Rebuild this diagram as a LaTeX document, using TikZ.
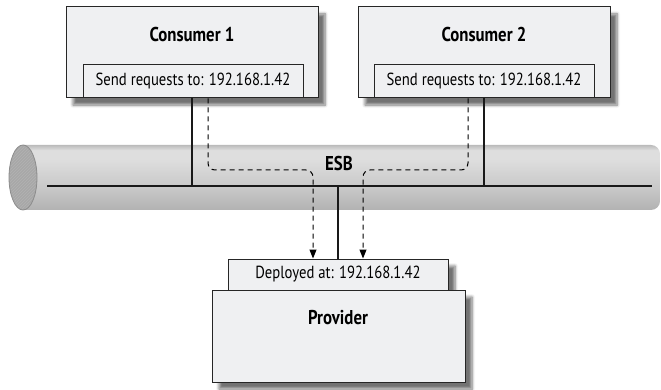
\documentclass[tikz,border=0pt]{standalone}
\usepackage{fontspec}
\setmainfont[FakeStretch=0.84]{PT Sans}
\usetikzlibrary{shadows.blur,arrows.meta,patterns}
\definecolor{boxfill}{HTML}{EFF0F2}
\definecolor{cylbot}{HTML}{B2B2B2}
\definecolor{cylmid}{HTML}{C8C8C8}
\definecolor{cylhi}{HTML}{DEDEDE}
\definecolor{cyltop}{HTML}{BBBBBB}
\definecolor{endfill}{HTML}{A8A8A8}
\definecolor{endline}{HTML}{8C8C8C}
\pgfdeclareverticalshading{cylshade}{100bp}{color(0bp)=(cylbot); color(25bp)=(cylbot); color(42bp)=(cylmid); color(64bp)=(cylhi); color(71bp)=(cylhi); color(75bp)=(cyltop); color(100bp)=(cyltop)}
\tikzset{
  shbox/.style={draw=black!85, line width=1pt, fill=boxfill, inner sep=0pt,
    blur shadow={shadow xshift=7pt, shadow yshift=-7pt, shadow blur steps=6, shadow blur radius=3pt, shadow opacity=55}},
  plainbox/.style={draw=black!85, line width=1pt, fill=boxfill, inner sep=0pt},
  title/.style={font=\bfseries\fontsize{20}{22}\selectfont, inner sep=0pt},
  addr/.style={font=\fontsize{17.5}{20}\selectfont, inner sep=0pt},
  solidlink/.style={line width=1.6pt, draw=black!90},
  dashlink/.style={line width=1pt, draw=black, dash pattern=on 5pt off 4pt, rounded corners=7pt},
  tip/.style={-{Triangle[length=9pt,width=7pt]}}
}
\begin{document}
\begin{tikzpicture}[x=1pt,y=-1pt]
\useasboundingbox (0,0) rectangle (661,390);
% ESB cylinder (drawn with upward y so the shading is not flipped)
\begin{scope}[y=1pt]
\shade[shading=cylshade] (23,-145) -- (651,-145) arc[start angle=90,end angle=0,radius=9] -- (660,-201) arc[start angle=0,end angle=-90,radius=9] -- (23,-210) -- cycle;
\filldraw[fill=endfill, draw=endline, line width=0.8pt] (23,-177.5) ellipse[x radius=14, y radius=32.5];
\fill[pattern=north east lines, pattern color=black!30] (23,-177.5) ellipse[x radius=13, y radius=31.5];
\end{scope}
\node[title] (esb) at (339,164) {ESB};
\coordinate (busL) at (47,186);
\coordinate (busR) at (652,186);
\draw[line width=1.8pt, draw=black!90] (busL) -- (busR);

% boxes
\node[shbox, minimum width=252pt, minimum height=91pt] (c1) at (192,52.5) {};
\node[plainbox, minimum width=220pt, minimum height=33pt] (c1in) at (193,81.5) {};
\node[title] (c1t) at (192,35) {Consumer 1};
\node[addr] (c1a) at (193,81) {Send requests to: 192.168.1.42};

\node[shbox, minimum width=252pt, minimum height=91pt] (c2) at (484,52.5) {};
\node[plainbox, minimum width=220pt, minimum height=33pt] (c2in) at (484,81.5) {};
\node[title] (c2t) at (484,35) {Consumer 2};
\node[addr] (c2a) at (484,81) {Send requests to: 192.168.1.42};

\node[shbox, minimum width=220pt, minimum height=31pt] (plab) at (338,274.5) {};
\node[addr] (plabt) at (338,274) {Deployed at: 192.168.1.42};
\node[shbox, minimum width=253pt, minimum height=92pt] (prov) at (338.5,336) {};
\node[title] (provt) at (338,318) {Provider};

% solid links
\draw[solidlink] (c1.south) -- (c1.south |- busL);
\draw[solidlink] (c2.south) -- (c2.south |- busL);
\draw[solidlink] (plab.north |- busL) -- (plab.north);

% dashed request paths
\coordinate (dy) at (0,170);
\draw[dashlink, tip] ([xshift=15pt]c1in.south) -- ([xshift=15pt]c1in.south |- dy) -| ([xshift=-25pt]plab.north);
\draw[dashlink, tip] ([xshift=-16pt]c2in.south) -- ([xshift=-16pt]c2in.south |- dy) -| ([xshift=25pt]plab.north);
\end{tikzpicture}
\end{document}
